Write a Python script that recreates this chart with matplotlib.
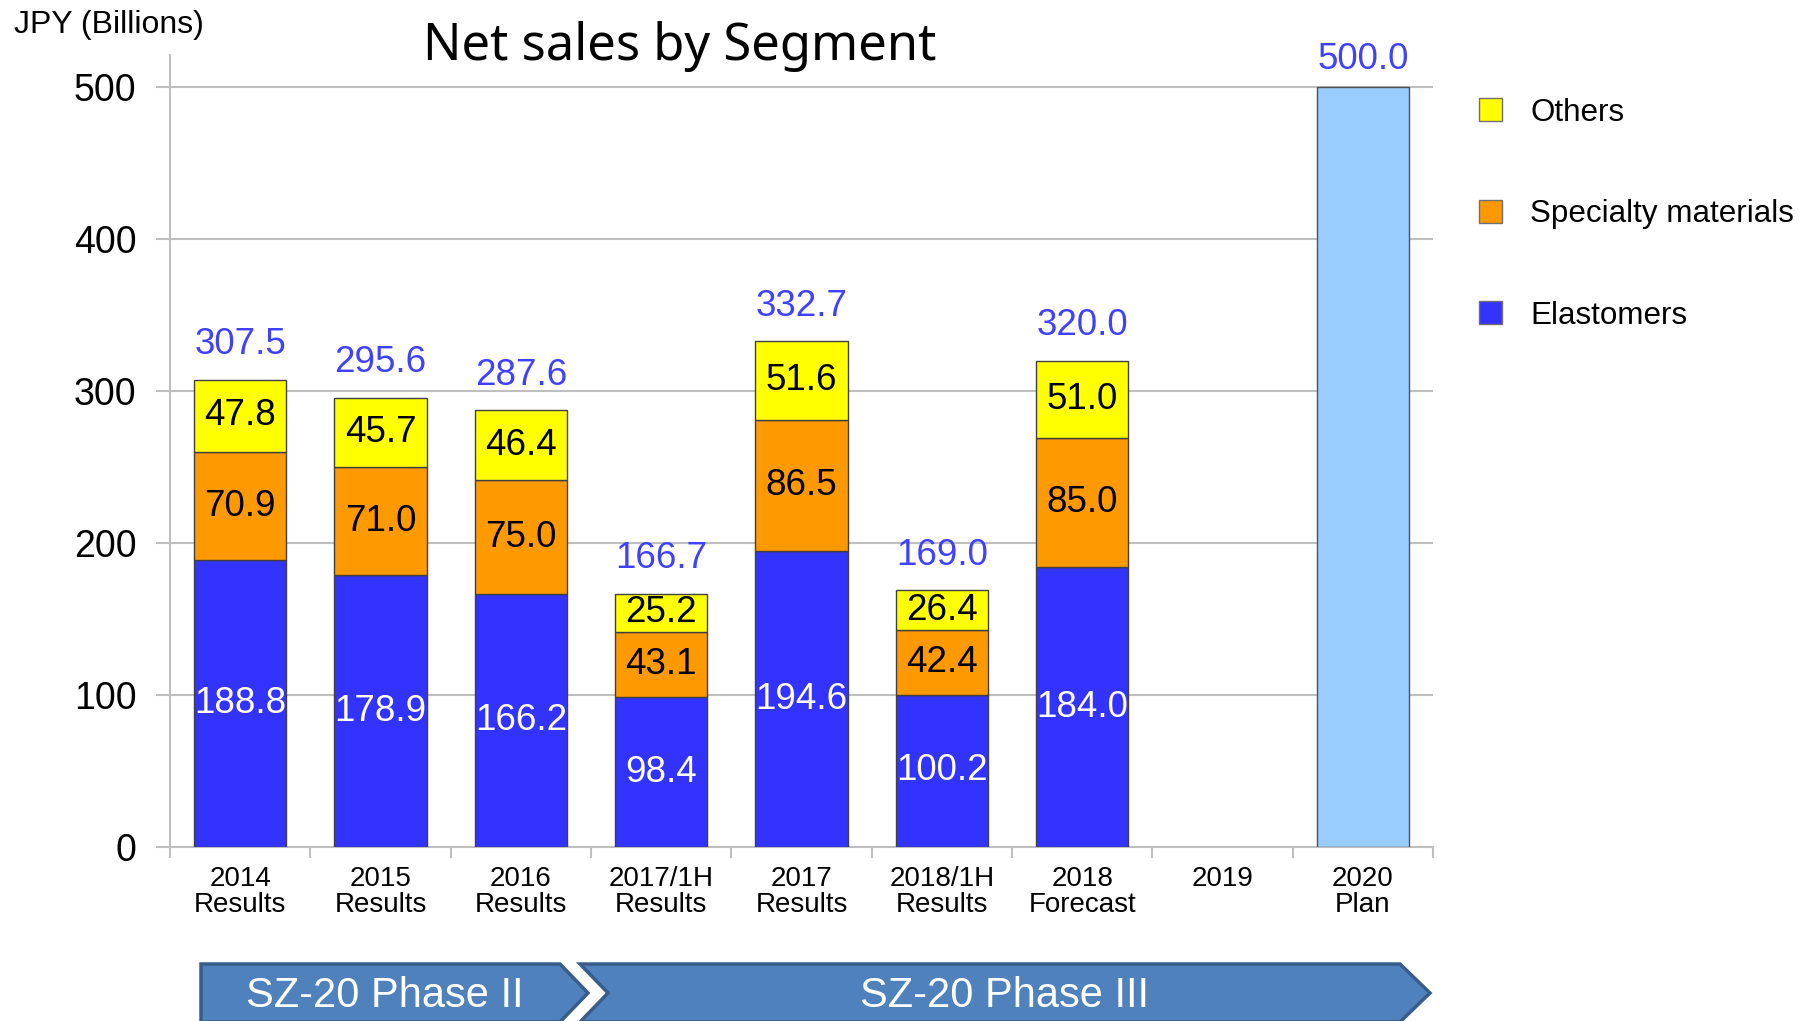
import numpy as np
import matplotlib
matplotlib.use("Agg")
import matplotlib.pyplot as plt
from matplotlib.patches import Polygon, Patch

plt.rcParams['font.family'] = ['Liberation Sans', 'DejaVu Sans']

categories = ['2014\nResults', '2015\nResults', '2016\nResults', '2017/1H\nResults',
              '2017\nResults', '2018/1H\nResults', '2018\nForecast', '2019', '2020\nPlan']
elastomers = [188.8, 178.9, 166.2, 98.4, 194.6, 100.2, 184.0]
specialty = [70.9, 71.0, 75.0, 43.1, 86.5, 42.4, 85.0]
others = [47.8, 45.7, 46.4, 25.2, 51.6, 26.4, 51.0]
totals = [307.5, 295.6, 287.6, 166.7, 332.7, 169.0, 320.0]
plan_idx = 8
plan_value = 500.0

c_el = '#3333FF'
c_sp = '#FF9900'
c_ot = '#FFFF00'
c_plan = '#99CCFF'
c_tot = '#4040FF'
edge = '#404040'

W, H = 1800, 1021
fig = plt.figure(figsize=(18, 10.21), dpi=100)
ax = fig.add_axes([170 / W, (H - 847) / H, (1433 - 170) / W, (847 - 55) / H])

x = np.arange(len(elastomers))
bw = 0.66
el = np.array(elastomers)
sp = np.array(specialty)
ot = np.array(others)
ax.bar(x, el, bw, color=c_el, edgecolor=edge, lw=1, zorder=3)
ax.bar(x, sp, bw, bottom=el, color=c_sp, edgecolor=edge, lw=1, zorder=3)
ax.bar(x, ot, bw, bottom=el + sp, color=c_ot, edgecolor=edge, lw=1, zorder=3)
ax.bar(plan_idx, plan_value, bw, color=c_plan, edgecolor='#505050', lw=1, zorder=3)

for i in range(len(x)):
    ax.text(i, el[i] / 2, f'{el[i]:.1f}', ha='center', va='center', color='white', fontsize=26.5, zorder=4)
    ax.text(i, el[i] + sp[i] / 2, f'{sp[i]:.1f}', ha='center', va='center', color='black', fontsize=26.5, zorder=4)
    ax.text(i, el[i] + sp[i] + ot[i] / 2, f'{ot[i]:.1f}', ha='center', va='center', color='black', fontsize=26.5, zorder=4)
    ax.annotate(f'{totals[i]:.1f}', (i, totals[i]), xytext=(0, 25), textcoords='offset points',
                ha='center', va='center', color=c_tot, fontsize=26.5)
ax.annotate(f'{plan_value:.1f}', (plan_idx, plan_value), xytext=(0, 20), textcoords='offset points',
            ha='center', va='center', color=c_tot, fontsize=26.5, annotation_clip=False)

ax.set_xlim(-0.5, len(categories) - 0.5)
ax.set_ylim(0, 521)
ax.set_yticks([0, 100, 200, 300, 400, 500])
ax.yaxis.grid(True, color='#BFBFBF', lw=1.5, zorder=0)
ax.tick_params(axis='y', labelsize=27, length=10, width=1.5, color='#BFBFBF', pad=14)
ax.set_xticks(np.arange(len(categories)))
ax.set_xticklabels(categories, fontsize=20, linespacing=1.0)
ax.set_xticks(np.arange(len(categories) + 1) - 0.5, minor=True)
ax.tick_params(axis='x', which='major', length=0, pad=14)
ax.tick_params(axis='x', which='minor', length=8, width=1.5, color='#BFBFBF')
for s in ['top', 'right']:
    ax.spines[s].set_visible(False)
for s in ['left', 'bottom']:
    ax.spines[s].set_color('#BFBFBF')
    ax.spines[s].set_linewidth(1.5)

fig.text(14 / W, 1 - 25 / H, 'JPY (Billions)', fontsize=23, va='center', ha='left')
fig.text(680 / W, 1 - 46 / H, 'Net sales by Segment', fontsize=36.5, va='center', ha='center',
         family=['Noto Sans', 'DejaVu Sans'])

handles = [Patch(facecolor=c_ot, edgecolor='#707070'),
           Patch(facecolor=c_sp, edgecolor='#707070'),
           Patch(facecolor=c_el, edgecolor='#707070')]
fig.legend(handles, ['Others', 'Specialty materials', 'Elastomers'], loc='upper left',
           bbox_to_anchor=(1463 / W, 1 - 82 / H), frameon=False, fontsize=22.6,
           handlelength=0.75, handleheight=0.75, handletextpad=0.9, labelspacing=2.28, borderpad=0)

# phase chevrons at the bottom
def px(pts):
    return [(a / W, 1 - b / H) for a, b in pts]

ch1 = px([(201, 964), (560, 964), (588, 993), (560, 1022), (201, 1022)])
ch2 = px([(580, 964), (1400, 964), (1430, 993), (1400, 1022), (580, 1022), (608, 993)])
for pts in (ch1, ch2):
    fig.patches.append(Polygon(pts, closed=True, facecolor='#4F81BD', edgecolor='#385D8A',
                               lw=2.5, transform=fig.transFigure, figure=fig))
fig.text(385 / W, 1 - 996 / H, 'SZ-20 Phase II', color='white', fontsize=30, ha='center', va='center')
fig.text(1005 / W, 1 - 996 / H, 'SZ-20 Phase III', color='white', fontsize=30, ha='center', va='center')

fig.savefig('out.png', dpi=100)
